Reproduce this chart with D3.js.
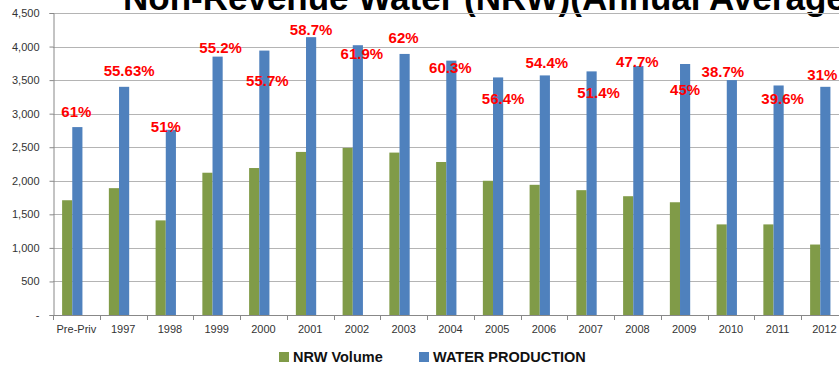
<!DOCTYPE html>
<html>
<head>
<meta charset="utf-8">
<script src="https://cdn.jsdelivr.net/npm/d3@7"></script>
<style>
  html, body { margin: 0; padding: 0; background: #fff; overflow: hidden; }
  svg { display: block; font-family: "Liberation Sans", Arial, sans-serif; }
</style>
</head>
<body>
<svg id="chart" width="839" height="365"></svg>
<script>
// Categories and series (million litres per day, annual average)
const categories = ["Pre-Priv", "1997", "1998", "1999", "2000", "2001", "2002", "2003", "2004",
                    "2005", "2006", "2007", "2008", "2009", "2010", "2011", "2012"];
const nrwVolume = [1710, 1890, 1410, 2120, 2190, 2430, 2490, 2420, 2280,
                   2000, 1940, 1860, 1770, 1680, 1350, 1350, 1050];
const waterProduction = [2800, 3400, 2760, 3850, 3940, 4140, 4020, 3890, 3790,
                         3540, 3570, 3630, 3710, 3740, 3500, 3420, 3400];
const nrwPercent = ["61%", "55.63%", "51%", "55.2%", "55.7%", "58.7%", "61.9%", "62%", "60.3%",
                    "56.4%", "54.4%", "51.4%", "47.7%", "45%", "38.7%", "39.6%", "31%"];
const yTicks = [0, 500, 1000, 1500, 2000, 2500, 3000, 3500, 4000, 4500];
const seriesNames = ["NRW Volume", "WATER PRODUCTION"];

// Placement of the percentage labels: level on the value axis and horizontal nudge (px)
const labelLevel = [2950, 3560, 2730, 3905, 3410, 4170, 3815, 4055, 3605,
                    3145, 3680, 3235, 3695, 3280, 3545, 3145, 3500];
const labelNudge = [0, 6, -4, 4, 4, 1, 5, 0, 0, 6, 3, 8, 0, 1, -8, 5, -2];

const colors = { nrw: "#809b48", prod: "#4f81bd" };

const svg = d3.select("#chart");
const plotLeft = 53, plotTop = 13, plotBottom = 315;
const step = 46.75;

const x = d3.scaleBand().domain(categories).range([plotLeft, plotLeft + step * categories.length]).padding(0);
// three slots per category: NRW, production, and an empty slot
const x1 = d3.scaleBand().domain(["nrw", "prod", "gap"]).range([0, x.bandwidth()])
  .paddingInner(0).paddingOuter(0.8).align(0.56);
const y = d3.scaleLinear().domain([0, 4500]).range([plotBottom, plotTop]);

// Title (runs past the right edge)
svg.append("text")
  .attr("x", 123).attr("y", 10)
  .attr("font-size", 35).attr("font-weight", "bold").attr("fill", "#000")
  .text("Non-Revenue Water (NRW)(Annual Average)");

// Gridlines
svg.append("g").selectAll("line").data(yTicks.filter(d => d > 0)).join("line")
  .attr("x1", plotLeft).attr("x2", 839)
  .attr("y1", d => Math.round(y(d)) + 0.5).attr("y2", d => Math.round(y(d)) + 0.5)
  .attr("stroke", "#b4b4b4").attr("stroke-width", 1);

// Y axis
const yAxis = d3.axisLeft(y).tickValues(yTicks).tickSize(4).tickPadding(10)
  .tickFormat(d => d === 0 ? "-" : d3.format(",")(d));
const gy = svg.append("g").attr("transform", `translate(${plotLeft + 0.5},0)`).call(yAxis);
gy.select(".domain").attr("stroke", "#888");
gy.selectAll(".tick line").attr("stroke", "#888");
gy.selectAll(".tick text").attr("font-size", 11).attr("fill", "#333")
  .attr("font-family", "'Liberation Sans', Arial, sans-serif");

// Bars
const groups = svg.append("g").selectAll("g").data(categories).join("g")
  .attr("transform", d => `translate(${x(d)},0)`);
groups.append("rect")
  .attr("x", x1("nrw")).attr("width", x1.bandwidth())
  .attr("y", (d, i) => y(nrwVolume[i])).attr("height", (d, i) => y(0) - y(nrwVolume[i]))
  .attr("fill", colors.nrw);
groups.append("rect")
  .attr("x", x1("prod")).attr("width", x1.bandwidth())
  .attr("y", (d, i) => y(waterProduction[i])).attr("height", (d, i) => y(0) - y(waterProduction[i]))
  .attr("fill", colors.prod);

// X axis with category separators
const xAxis = d3.axisBottom(x).tickSize(0).tickPadding(10);
const gx = svg.append("g").attr("transform", `translate(0,${plotBottom + 0.5})`).call(xAxis);
gx.select(".domain").remove();
gx.selectAll(".tick text").attr("font-size", 11).attr("fill", "#333")
  .attr("font-family", "'Liberation Sans', Arial, sans-serif");
svg.append("line").attr("x1", plotLeft).attr("x2", 839)
  .attr("y1", plotBottom + 0.5).attr("y2", plotBottom + 0.5).attr("stroke", "#888");
svg.append("g").selectAll("line").data(categories).join("line")
  .attr("x1", d => Math.round(x(d)) + 0.5).attr("x2", d => Math.round(x(d)) + 0.5)
  .attr("y1", plotBottom).attr("y2", plotBottom + 5).attr("stroke", "#888");

// Percentage labels
svg.append("g").selectAll("text").data(categories).join("text")
  .attr("x", (d, i) => x(d) + x.bandwidth() / 2 + labelNudge[i])
  .attr("y", (d, i) => y(labelLevel[i]))
  .attr("text-anchor", "middle")
  .attr("font-size", 15).attr("font-weight", "bold").attr("fill", "#ff0000")
  .text((d, i) => nrwPercent[i]);

// Legend
const legend = svg.append("g").attr("transform", "translate(279,352)");
const legendItems = [
  { name: seriesNames[0], color: colors.nrw, dx: 0 },
  { name: seriesNames[1], color: colors.prod, dx: 140 }
];
const li = legend.selectAll("g").data(legendItems).join("g")
  .attr("transform", d => `translate(${d.dx},0)`);
li.append("rect").attr("width", 10).attr("height", 10).attr("fill", d => d.color);
li.append("text").attr("x", 14).attr("y", 10)
  .attr("font-size", 14.5).attr("font-weight", "bold").attr("fill", "#111")
  .text(d => d.name);
</script>
</body>
</html>
